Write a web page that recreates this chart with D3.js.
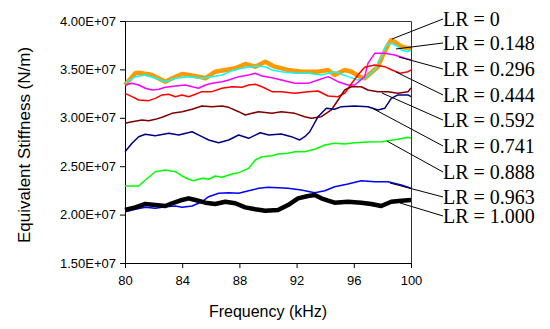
<!DOCTYPE html>
<html>
<head>
<meta charset="utf-8">
<script src="https://cdn.jsdelivr.net/npm/d3@7"></script>
<style>
  body { margin: 0; background: #fff; }
</style>
</head>
<body>
<div id="chart"></div>
<script>
// axis ticks
var freqTicks = [80, 84, 88, 92, 96, 100];
var stiffTicks = [1.5, 2.0, 2.5, 3.0, 3.5, 4.0]; // x 1E+07 N/m

// series: [frequency kHz, stiffness in 1E+07 N/m]
var lr0000 = [[80,3.339],[80.72,3.460],[80.96,3.466],[81.89,3.442],[82.12,3.425],[82.82,3.373],[83.29,3.408],[83.99,3.452],[84.45,3.442],[85.15,3.425],[85.62,3.408],[86.31,3.476],[87.01,3.494],[87.71,3.511],[88.41,3.556],[89.11,3.528],[89.81,3.580],[90.47,3.528],[91.40,3.494],[92.33,3.476],[93.50,3.476],[94.20,3.494],[94.66,3.442],[95.36,3.494],[95.83,3.476],[96.41,3.425],[96.76,3.408],[97.69,3.528],[98.04,3.649],[98.39,3.752],[98.62,3.804],[98.86,3.786],[99.32,3.735],[99.79,3.718],[100,3.718]];
var lr0148 = [[80,3.356],[80.72,3.425],[81.42,3.442],[82.12,3.408],[82.82,3.373],[83.52,3.408],[84.45,3.425],[85.38,3.408],[86.08,3.425],[86.78,3.442],[87.48,3.487],[88.18,3.511],[89.11,3.535],[89.81,3.528],[90.28,3.494],[90.93,3.476],[91.87,3.460],[92.80,3.460],[93.73,3.442],[94.66,3.476],[95.59,3.425],[96.29,3.390],[96.76,3.408],[97.46,3.494],[97.92,3.631],[98.27,3.752],[98.62,3.770],[99.09,3.735],[99.32,3.700],[99.79,3.683],[100,3.700]];
var lr0296 = [[80,3.339],[80.49,3.356],[80.96,3.339],[81.42,3.305],[81.89,3.287],[82.36,3.294],[82.82,3.315],[83.52,3.329],[84.22,3.339],[84.69,3.321],[85.15,3.305],[85.62,3.339],[86.08,3.356],[86.78,3.373],[87.25,3.390],[87.95,3.425],[88.65,3.442],[89.11,3.460],[89.58,3.432],[90.28,3.414],[90.93,3.390],[91.87,3.356],[92.80,3.356],[93.50,3.390],[94.20,3.425],[94.90,3.373],[95.59,3.339],[96.06,3.339],[96.76,3.425],[96.99,3.563],[97.46,3.666],[98.16,3.666],[98.86,3.649],[99.56,3.615],[100,3.597]];
var lr0444 = [[80,3.253],[80.49,3.218],[80.96,3.184],[81.66,3.177],[82.12,3.201],[82.59,3.236],[83.06,3.243],[83.52,3.218],[83.99,3.236],[84.45,3.218],[84.92,3.243],[85.38,3.270],[86.08,3.270],[86.78,3.305],[87.48,3.321],[88.18,3.315],[88.65,3.339],[89.11,3.346],[89.58,3.321],[90.28,3.270],[90.93,3.270],[91.87,3.253],[92.80,3.270],[93.50,3.277],[94.20,3.225],[94.90,3.218],[95.38,3.256],[95.87,3.360],[96.29,3.442],[96.76,3.522],[97.46,3.545],[98.16,3.528],[98.67,3.494],[99.23,3.460],[99.79,3.476],[100,3.494]];
var lr0592 = [[80,2.943],[80.49,2.960],[81.19,2.977],[81.66,2.970],[82.12,2.984],[82.59,3.005],[83.29,3.046],[83.99,3.063],[84.69,3.088],[85.38,3.122],[86.08,3.115],[86.78,3.122],[87.25,3.108],[87.95,3.063],[88.41,3.029],[88.88,3.046],[89.35,3.063],[90.28,3.046],[90.93,3.063],[91.87,3.046],[92.57,3.011],[93.03,2.995],[93.73,3.011],[94.43,3.081],[94.90,3.184],[95.36,3.287],[95.83,3.321],[96.52,3.321],[96.99,3.287],[97.69,3.270],[98.39,3.270],[99.09,3.253],[99.79,3.270],[100,3.308]];
var lr0741 = [[80,2.650],[80.49,2.737],[80.96,2.805],[81.42,2.830],[82.12,2.815],[83.06,2.840],[83.76,2.822],[84.69,2.856],[85.38,2.805],[85.85,2.771],[86.55,2.743],[87.25,2.771],[87.95,2.822],[88.65,2.788],[89.46,2.846],[90.05,2.822],[90.93,2.833],[91.63,2.805],[92.22,2.771],[92.57,2.805],[92.92,2.856],[93.50,3.011],[94.08,3.098],[94.66,3.088],[95.13,3.115],[96.06,3.122],[96.99,3.115],[97.69,3.081],[98.16,3.098],[98.62,3.201],[99.09,3.236],[99.79,3.236],[100,3.218]];
var lr0888 = [[80,2.295],[80.96,2.295],[81.42,2.357],[82.12,2.443],[82.82,2.461],[83.52,2.443],[83.99,2.399],[84.45,2.365],[84.80,2.350],[85.38,2.375],[85.85,2.365],[86.31,2.399],[86.78,2.385],[87.48,2.419],[87.95,2.433],[88.65,2.478],[89.11,2.564],[89.58,2.598],[90.28,2.608],[90.70,2.626],[91.40,2.633],[91.87,2.650],[92.57,2.650],[93.27,2.675],[93.97,2.719],[94.66,2.737],[95.36,2.729],[96.06,2.743],[96.99,2.750],[97.92,2.753],[98.39,2.763],[99.09,2.778],[99.79,2.799],[100,2.788]];
var lr0963 = [[80,2.030],[80.72,2.055],[81.42,2.075],[82.12,2.065],[82.82,2.082],[83.52,2.089],[83.99,2.075],[84.69,2.089],[85.38,2.133],[85.85,2.185],[86.55,2.220],[87.25,2.226],[87.95,2.220],[88.65,2.247],[89.35,2.272],[90.00,2.282],[91.40,2.272],[92.33,2.254],[93.27,2.226],[93.97,2.247],[94.66,2.288],[95.59,2.316],[96.52,2.350],[97.46,2.340],[98.39,2.340],[99.32,2.306],[100,2.272]];
var lr1000 = [[80,2.048],[80.72,2.075],[81.42,2.110],[82.12,2.099],[82.82,2.089],[83.29,2.117],[83.99,2.151],[84.45,2.168],[84.92,2.151],[85.62,2.123],[86.31,2.110],[87.01,2.133],[87.71,2.117],[88.41,2.075],[89.11,2.055],[89.81,2.040],[90.70,2.048],[91.40,2.099],[92.10,2.168],[92.80,2.192],[93.27,2.202],[93.73,2.168],[94.20,2.144],[94.66,2.123],[95.59,2.133],[96.52,2.123],[97.22,2.110],[97.92,2.089],[98.62,2.133],[99.32,2.144],[100,2.151]];

var seriesData = [lr0000, lr0148, lr0296, lr0444, lr0592, lr0741, lr0888, lr0963, lr1000];
var lrLabels = ["LR = 0", "LR = 0.148", "LR = 0.296", "LR = 0.444", "LR = 0.592", "LR = 0.741", "LR = 0.888", "LR = 0.963", "LR = 1.000"];
var lrColors = ["#ff9900", "#00ffff", "#ff00ff", "#ff0000", "#800000", "#000080", "#00ff00", "#0000ff", "#000000"];
var lrWidths = [4.5, 1.5, 1.5, 1.5, 1.5, 1.5, 1.5, 1.5, 4.5];

// where each callout line touches its curve, and where its label sits (data units)
var leaderAnchors = [[98.67,3.814],[98.95,3.711],[99.16,3.628],[98.95,3.473],[97.97,3.256],[97.27,3.101],[98.32,2.760],[98.53,2.326],[99.23,2.120]];
var labelLevels = [4.021, 3.773, 3.504, 3.236, 2.977, 2.709, 2.440, 2.182, 1.986];

var svgWidth = 550;
var svgHeight = 329;
var margin = { top: 21, right: 139, bottom: 66, left: 125 };
var width = svgWidth - margin.left - margin.right;
var height = svgHeight - margin.top - margin.bottom;

var svg = d3.select("#chart")
  .append("svg")
  .attr("width", svgWidth)
  .attr("height", svgHeight)
  .style("display", "block");

svg.append("rect").attr("width", svgWidth).attr("height", svgHeight).attr("fill", "#fff");

var chartGroup = svg.append("g")
  .attr("transform", `translate(${margin.left}, ${margin.top})`);

var xScale = d3.scaleLinear().domain([80, 100]).range([0, width]);
var yScale = d3.scaleLinear().domain([1.5, 4.0]).range([height, 0]);

// frame (top and right)
chartGroup.append("path")
  .attr("d", `M0,0.5H${width + 0.5}V${height}`)
  .attr("fill", "none")
  .attr("stroke", "#333")
  .attr("stroke-width", 1);

// axes
var bottomAxis = d3.axisBottom(xScale).tickValues(freqTicks).tickSize(5).tickPadding(8).tickSizeOuter(0);
var leftAxis = d3.axisLeft(yScale).tickValues(stiffTicks).tickSize(5).tickPadding(4).tickSizeOuter(0)
  .tickFormat(d => d.toFixed(2) + "E+07");

var xAxisG = chartGroup.append("g")
  .attr("transform", `translate(0, ${height})`)
  .call(bottomAxis);
var yAxisG = chartGroup.append("g").call(leftAxis);

[xAxisG, yAxisG].forEach(function (g) {
  g.selectAll("path, line").attr("stroke", "#000");
  g.selectAll("text")
    .attr("fill", "#000")
    .style("font-family", "'Liberation Sans', Arial, sans-serif")
    .style("font-size", "13px");
});

// axis titles
svg.append("text")
  .attr("x", margin.left + width / 2)
  .attr("y", 317)
  .attr("text-anchor", "middle")
  .style("font-family", "'Liberation Sans', Arial, sans-serif")
  .style("font-size", "16px")
  .text("Frequency (kHz)");

svg.append("text")
  .attr("transform", "translate(30, 145) rotate(-90)")
  .attr("text-anchor", "middle")
  .style("font-family", "'Liberation Sans', Arial, sans-serif")
  .style("font-size", "17px")
  .text("Equivalent Stiffness (N/m)");

// curves
var line = d3.line()
  .x(d => xScale(d[0]))
  .y(d => yScale(d[1]));

chartGroup.selectAll(".series")
  .data(seriesData)
  .enter()
  .append("path")
  .attr("class", "series")
  .attr("d", line)
  .attr("fill", "none")
  .attr("stroke", (d, i) => lrColors[i])
  .attr("stroke-width", (d, i) => lrWidths[i])
  .attr("stroke-linejoin", "round");

// callout lines and labels
var labelX = width + 32;

chartGroup.selectAll(".leader")
  .data(leaderAnchors)
  .enter()
  .append("line")
  .attr("class", "leader")
  .attr("x1", d => xScale(d[0]))
  .attr("y1", d => yScale(d[1]))
  .attr("x2", labelX)
  .attr("y2", (d, i) => yScale(labelLevels[i]))
  .attr("stroke", "#000")
  .attr("stroke-width", 1);

chartGroup.selectAll(".lrLabel")
  .data(lrLabels)
  .enter()
  .append("text")
  .attr("class", "lrLabel")
  .attr("x", labelX)
  .attr("y", (d, i) => yScale(labelLevels[i]))
  .attr("dy", "0.34em")
  .style("font-family", "'Liberation Serif', 'Times New Roman', serif")
  .style("font-size", "20px")
  .text(d => d);
</script>
</body>
</html>
